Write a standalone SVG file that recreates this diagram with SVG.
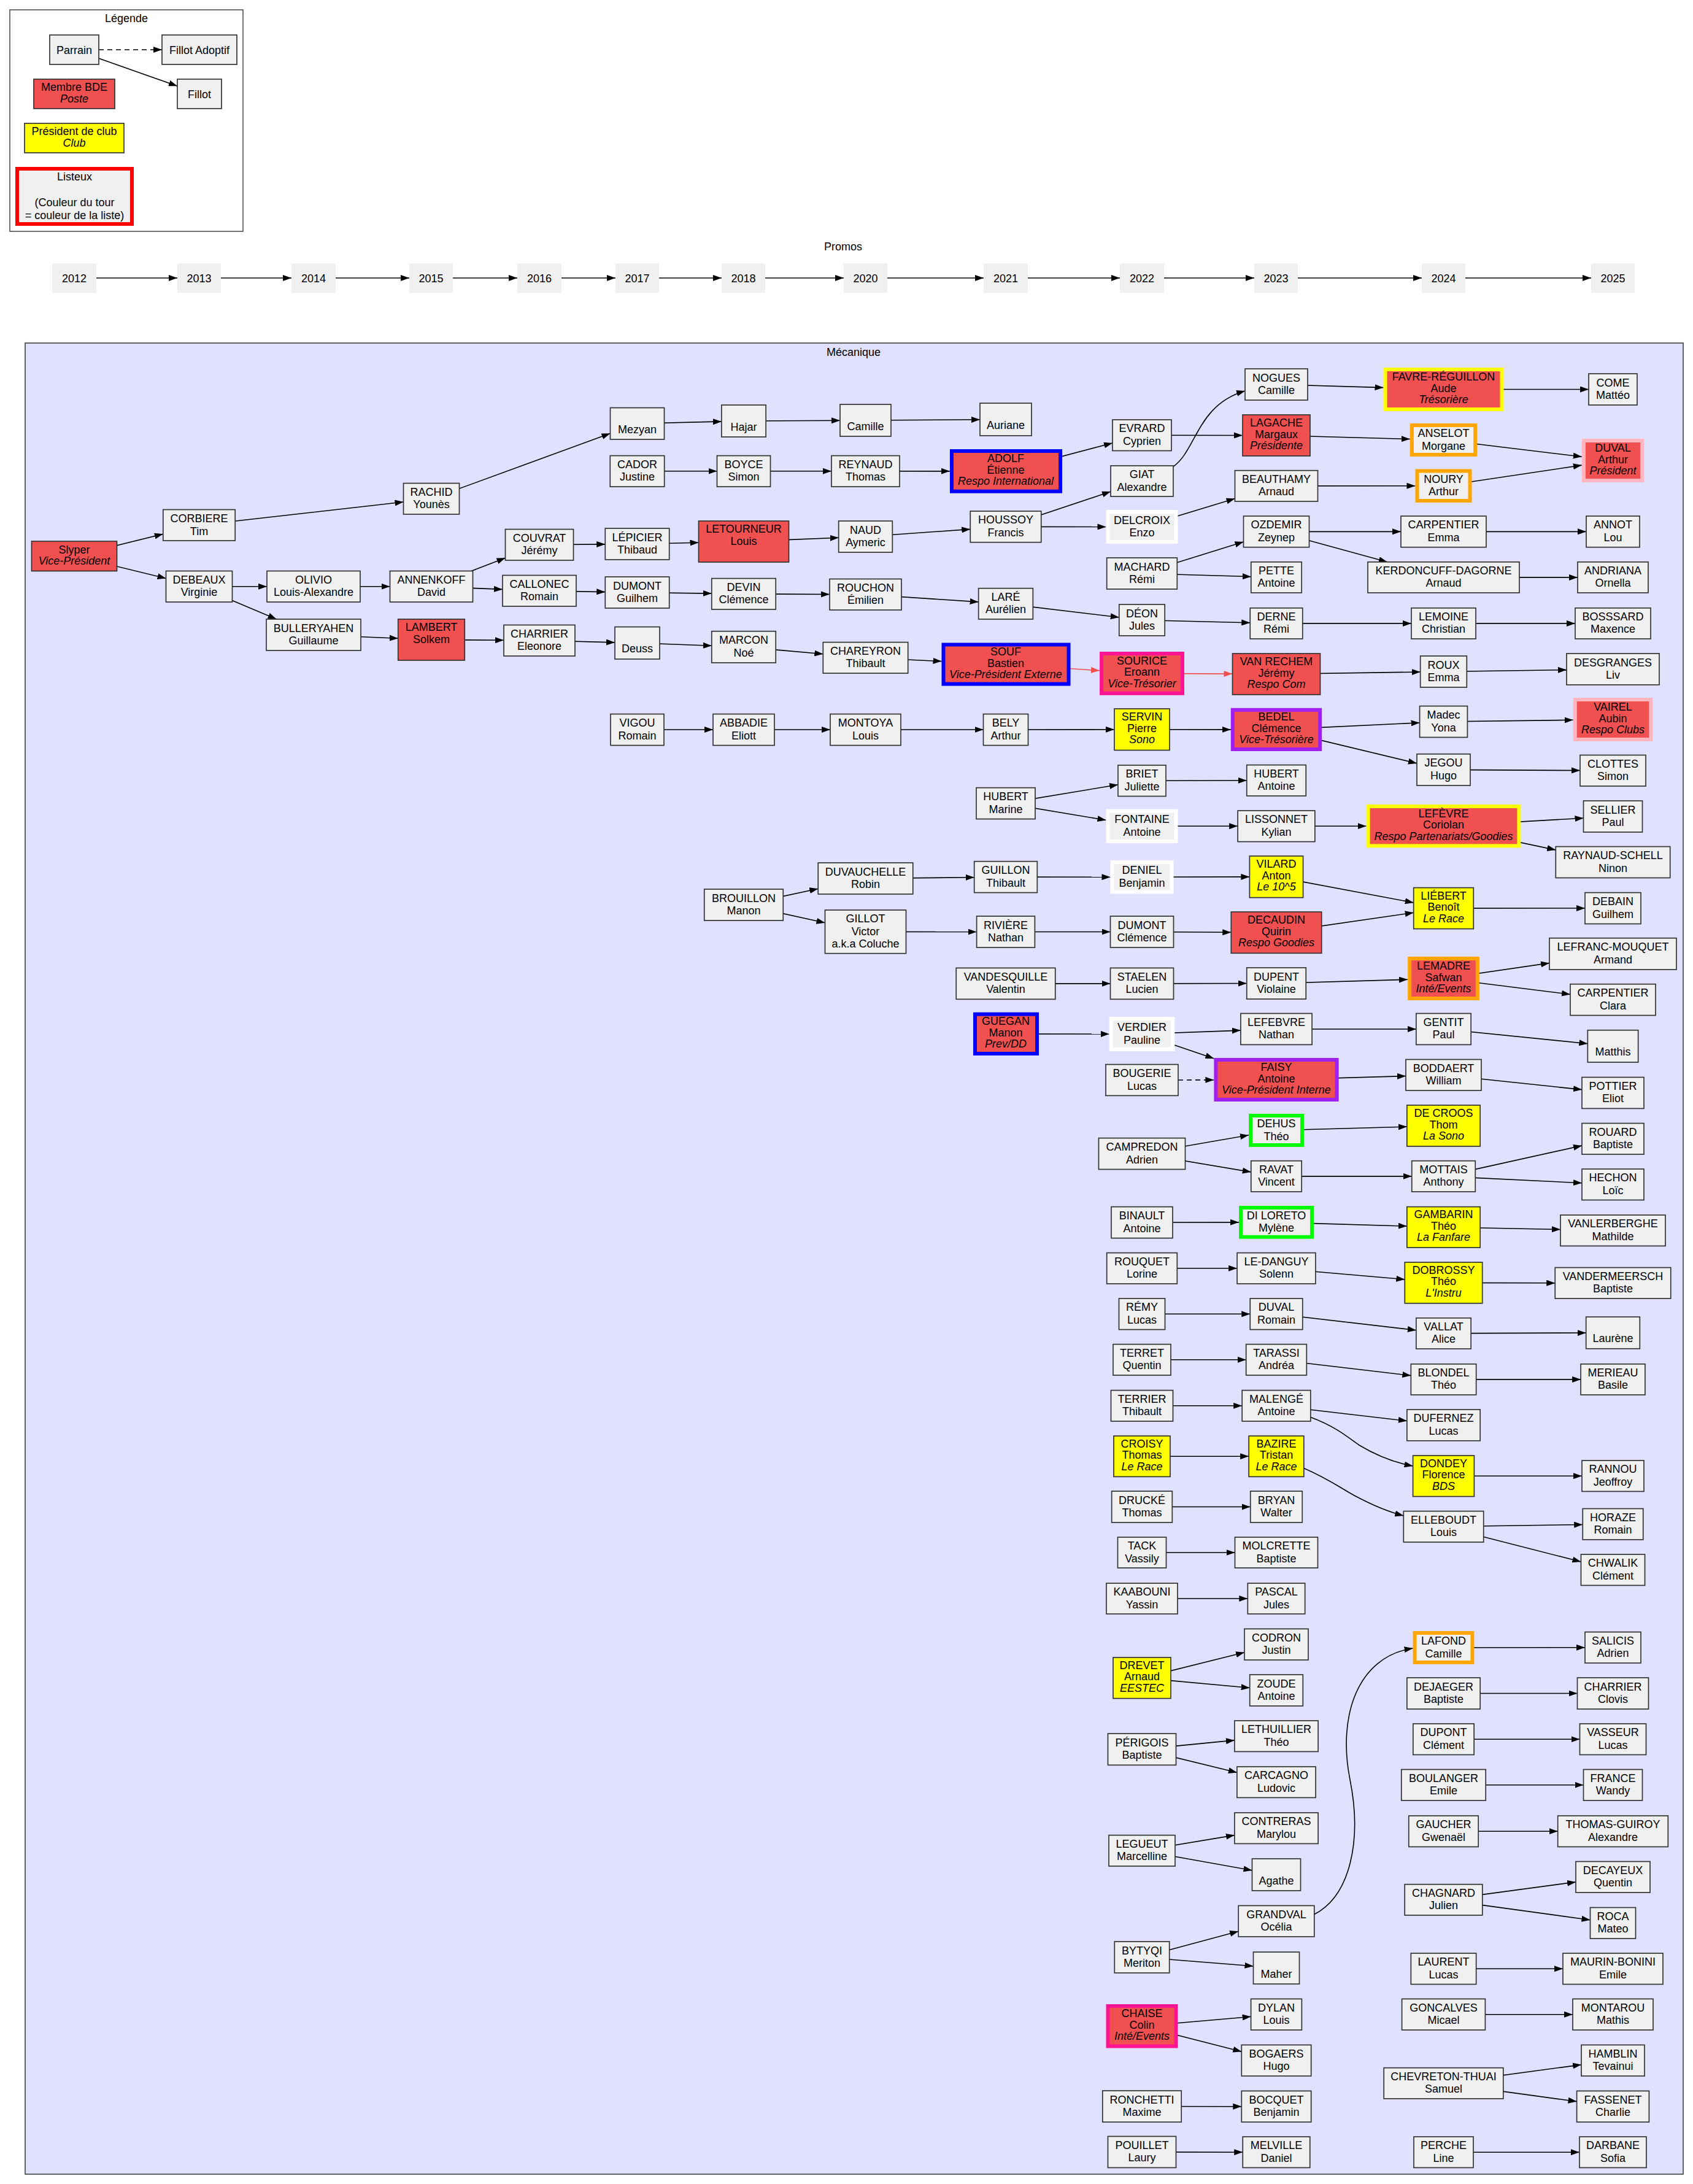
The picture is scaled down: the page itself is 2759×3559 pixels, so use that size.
<svg xmlns="http://www.w3.org/2000/svg" width="2759" height="3559" viewBox="0 0 2759 3559">
<style>
text{font-family:"Liberation Sans",Arial,Helvetica,sans-serif;font-size:18px;text-anchor:middle;fill:#000}
.i{font-style:italic}
.nd rect{stroke:#333;stroke-width:1.7}
.n rect{fill:#f0f0f0}
.b rect{fill:#f05050}
.y rect{fill:#ffff00}
.p rect{fill:#f0f0f0;stroke:none}
.kb rect{stroke:#0000ff;stroke-width:6}
.kp rect{stroke:#ff1493;stroke-width:6}
.kw rect{stroke:#ffffff;stroke-width:6}
.ku rect{stroke:#a020f0;stroke-width:6}
.kg rect{stroke:#00ff00;stroke-width:6}
.ky rect{stroke:#ffff00;stroke-width:6}
.ko rect{stroke:#ffa500;stroke-width:6}
.kl rect{stroke:#ffb6c1;stroke-width:6}
.kr rect{stroke:#ff0000;stroke-width:6}
#edges path{fill:none;stroke:#000;stroke-width:1.6;marker-end:url(#a)}
#edges path.r{stroke:#f05050;marker-end:url(#ar)}
#edges path.d{stroke-dasharray:8,6}
</style>
<defs>
<marker id="a" viewBox="0 0 14 10" refX="14" refY="5" markerWidth="14" markerHeight="10" markerUnits="userSpaceOnUse" orient="auto"><path d="M0,0L14,5L0,10z" fill="#000"/></marker>
<marker id="ar" viewBox="0 0 14 10" refX="14" refY="5" markerWidth="14" markerHeight="10" markerUnits="userSpaceOnUse" orient="auto"><path d="M0,0L14,5L0,10z" fill="#f05050"/></marker>
</defs>
<rect width="2759" height="3559" fill="#fff"/>
<g id="clusters">
<rect x="16" y="16" width="380" height="361" fill="#fff" stroke="#444" stroke-width="1.5"/>
<text x="206" y="36">Légende</text>
<text x="1374" y="408">Promos</text>
<rect x="41" y="559" width="2702" height="2984" fill="#e0e0ff" stroke="#333" stroke-width="1.5"/>
<text x="1391" y="580">Mécanique</text>
</g>
<g id="edges">
<path class="d" d="M161,81L264,81"/>
<path d="M121,81L289,140.3"/>
<path d="M157,453L289,453"/>
<path d="M360,453L475,453"/>
<path d="M547,453L667,453"/>
<path d="M738,453L843,453"/>
<path d="M915,453L1003,453"/>
<path d="M1074,453L1176,453"/>
<path d="M1247,453L1375,453"/>
<path d="M1446,453L1603,453"/>
<path d="M1675,453L1825,453"/>
<path d="M1897,453L2044,453"/>
<path d="M2115,453L2317,453"/>
<path d="M2388,453L2593,453"/>
<path d="M121,906L265.8,870.2"/>
<path d="M121,906L270.5,942.5"/>
<path d="M324.5,855.75L657.5,818"/>
<path d="M703,812.8L994.5,706.3"/>
<path d="M324.5,955.75L435,955.75"/>
<path d="M324.5,955.75L450.6,1009"/>
<path d="M511,955.75L635.5,955.75"/>
<path d="M703,955.75L823.5,909.2"/>
<path d="M703,955.75L819,960.4"/>
<path d="M511,1034.5L648.75,1040.2"/>
<path d="M703,1042.5L821,1043.3"/>
<path d="M879,887.8L986.3,886.9"/>
<path d="M879,962.8L986.3,964.6"/>
<path d="M879,1043.75L1002,1046.9"/>
<path d="M1038.5,690.25L1175.85,686.9"/>
<path d="M1038.5,767.8L1168.5,767.8"/>
<path d="M1038.5,886.5L1138.5,884.2"/>
<path d="M1038.5,965.5L1159.8,967.1"/>
<path d="M1038.5,1047.8L1159.8,1052.3"/>
<path d="M1038.5,1189L1162,1189"/>
<path d="M1212,686L1369,685.2"/>
<path d="M1212,767.8L1355,767.8"/>
<path d="M1212,882.5L1366.7,876.3"/>
<path d="M1212,967.8L1352,968.5"/>
<path d="M1212,1054.3L1341.3,1065.7"/>
<path d="M1212,1189L1353,1189"/>
<path d="M1212,1474.5L1333.25,1448.2"/>
<path d="M1212,1474.5L1344.5,1503.8"/>
<path d="M1410.5,685L1597,683.8"/>
<path d="M1410.5,767.8L1548,767.85"/>
<path d="M1410.5,874.5L1581.25,862.4"/>
<path d="M1410.5,968.75L1594.65,980.9"/>
<path d="M1410.5,1071.8L1534.5,1077.6"/>
<path d="M1410.5,1189L1602.5,1189"/>
<path d="M1410.5,1431.5L1587.7,1429.7"/>
<path d="M1410.5,1518.4L1591.6,1518.5"/>
<path d="M1639,767.85L1813,721.9"/>
<path d="M1639,858.35L1810,801.1"/>
<path d="M1639,858.35L1802.5,858.5"/>
<path d="M1639,983.85L1823.8,1006"/>
<path class="r" d="M1639,1082.55L1792,1092.8"/>
<path d="M1639,1189L1816,1188.8"/>
<path d="M1639,1309.15L1822,1278.7"/>
<path d="M1639,1309.15L1802.5,1336.5"/>
<path d="M1639,1429.15L1809.5,1429.2"/>
<path d="M1639,1518.5L1809.5,1518.5"/>
<path d="M1639,1602.85L1809.5,1602.85"/>
<path d="M1639,1684.85L1807.7,1685"/>
<path d="M1861,709.25L2025,709.5"/>
<path d="M1911,761C1950,735 1950,660 2029,637"/>
<path d="M1861,858.5L2012.5,812.4"/>
<path d="M1861,934.5L2026.5,882.95"/>
<path d="M1861,934.5L2038.8,939.7"/>
<path d="M1861,1010.5L2037.25,1014.8"/>
<path class="r" d="M1861,1097.4L2008.5,1098.1"/>
<path d="M1861,1188.75L2005.8,1188.9"/>
<path d="M1861,1272.25L2031.75,1271.8"/>
<path d="M1861,1346.25L2017.15,1346.3"/>
<path d="M1861,1429.2L2036.4,1428.85"/>
<path d="M1861,1518.5L2006.3,1519.3"/>
<path d="M1861,1602.85L2031.75,1602.5"/>
<path d="M1861,1685L2021.9,1679.1"/>
<path d="M1861,1685L1978.4,1724.9"/>
<path class="d" d="M1920,1760L1978.4,1759.8"/>
<path d="M1861,1880L2035,1849.8"/>
<path d="M1861,1880L2038.8,1909.9"/>
<path d="M1861,1992L2019,1991.85"/>
<path d="M1861,2066.8L2016.1,2066.8"/>
<path d="M1861,2141.3L2037.25,2141.3"/>
<path d="M1861,2215.8L2030.7,2215.8"/>
<path d="M1861,2290.8L2024.2,2290.8"/>
<path d="M1861,2373.2L2035.15,2373.2"/>
<path d="M1861,2455.5L2037.75,2455.5"/>
<path d="M1861,2530L2012.5,2530"/>
<path d="M1861,2605L2033.35,2605"/>
<path d="M1861,2734.35L2028,2692.7"/>
<path d="M1861,2734.35L2036.7,2750.5"/>
<path d="M1861,2850.65L2011.9,2835.9"/>
<path d="M1861,2850.65L2015.9,2888.5"/>
<path d="M1861,3015.8L2011.9,2990.6"/>
<path d="M1861,3015.8L2040.5,3047.9"/>
<path d="M1861,3189.5L2018.2,3147.3"/>
<path d="M1861,3189.5L2042.5,3204"/>
<path d="M1861,3301.75L2038.6,3286.3"/>
<path d="M1861,3301.75L2023.3,3343.2"/>
<path d="M1861,3432.5L2023.3,3432.7"/>
<path d="M1861,3506.9L2025.25,3507.2"/>
<path d="M2080,626.5L2254.5,631.6"/>
<path d="M2080,709.5L2297.8,715.5"/>
<path d="M2080,791.85L2306.5,791.75"/>
<path d="M2080,866.35L2283,866.35"/>
<path d="M2080,866.35L2260.8,915.8"/>
<path d="M2080,1015.9L2300,1015.9"/>
<path d="M2080,1098.5L2314.7,1095"/>
<path d="M2080,1188.9L2313.6,1177.8"/>
<path d="M2080,1188.9L2309,1243.9"/>
<path d="M2080,1346.3L2226.6,1346.2"/>
<path d="M2080,1428.85L2303.7,1470.9"/>
<path d="M2080,1519.65L2303.7,1487.2"/>
<path d="M2080,1602.5L2294,1596.2"/>
<path d="M2080,1677L2307.85,1677"/>
<path d="M2080,1759.5L2291,1753.5"/>
<path d="M2080,1842L2292.85,1836.1"/>
<path d="M2080,1916.85L2300.75,1916.85"/>
<path d="M2080,1991.85L2292.85,1998.1"/>
<path d="M2080,2066.8L2289.3,2084.9"/>
<path d="M2080,2141.3L2307.85,2167.7"/>
<path d="M2080,2215.8L2299.35,2241.6"/>
<path d="M2080,2290.8L2292.85,2315.5"/>
<path d="M2136,2309.5C2180,2326 2200,2345 2215,2355C2240,2370 2270,2383 2302.6,2389"/>
<path d="M2124.7,2392.6C2165,2410 2190,2428 2207,2437C2235,2452 2260,2463 2287.3,2470"/>
<path d="M2141.6,3119.7C2200,3090 2220,3000 2200,2900C2180,2800 2210,2700 2302.6,2686"/>
<path d="M2352.5,634.5L2589,634.5"/>
<path d="M2352.5,717L2577.8,744.3"/>
<path d="M2352.5,791.75L2577.8,758.1"/>
<path d="M2352.5,866.35L2585,866.35"/>
<path d="M2352.5,940.9L2571,940.9"/>
<path d="M2352.5,1015.9L2567,1015.9"/>
<path d="M2352.5,1094.5L2553,1091.6"/>
<path d="M2352.5,1176L2563.6,1173.3"/>
<path d="M2352.5,1254.4L2575,1255.5"/>
<path d="M2352.5,1346.2L2580.5,1333.2"/>
<path d="M2352.5,1346.2L2535.3,1385.1"/>
<path d="M2352.5,1480.1L2583,1480"/>
<path d="M2352.5,1594.5L2525,1569.4"/>
<path d="M2352.5,1594.5L2559,1620.4"/>
<path d="M2352.5,1677L2587.35,1700.7"/>
<path d="M2352.5,1751.75L2578,1775.6"/>
<path d="M2352.5,1916.85L2578,1866.9"/>
<path d="M2352.5,1916.85L2578,1927.8"/>
<path d="M2352.5,1999.8L2543,2003.5"/>
<path d="M2352.5,2090.4L2534.25,2090.8"/>
<path d="M2352.5,2172.9L2584.7,2172"/>
<path d="M2352.5,2247.9L2576.1,2247.9"/>
<path d="M2352.5,2405.3L2578,2405.2"/>
<path d="M2352.5,2487.8L2579.25,2484.5"/>
<path d="M2352.5,2487.8L2576.45,2545"/>
<path d="M2352.5,2685L2583,2684.75"/>
<path d="M2352.5,2759.5L2570.5,2759.5"/>
<path d="M2352.5,2834.25L2574.5,2834.25"/>
<path d="M2352.5,2908.75L2580.5,2908.75"/>
<path d="M2352.5,2984.25L2538.7,2984.25"/>
<path d="M2352.5,3095.85L2568,3066.9"/>
<path d="M2352.5,3095.85L2591.5,3128.7"/>
<path d="M2352.5,3208.25L2547,3208.25"/>
<path d="M2352.5,3282.7L2563,3282.7"/>
<path d="M2352.5,3394.85L2577,3364.6"/>
<path d="M2352.5,3394.85L2569.6,3424.6"/>
<path d="M2352.5,3507.2L2574,3507.2"/>
</g>
<g id="legend-nodes">
<g id="l_parrain" class="nd n"><rect x="81" y="57" width="80" height="48"/><text x="121" y="87.5">Parrain</text></g>
<g id="l_adoptif" class="nd n"><rect x="264" y="57" width="122" height="48"/><text x="325" y="87.5">Fillot Adoptif</text></g>
<g id="l_fillot" class="nd n"><rect x="289" y="129" width="72" height="48"/><text x="325" y="159.5">Fillot</text></g>
<g id="l_bde" class="nd b"><rect x="55" y="129" width="132" height="48"/><text x="121" y="148">Membre BDE</text><text class="i" x="121" y="167">Poste</text></g>
<g id="l_club" class="nd y"><rect x="40" y="201" width="162" height="48"/><text x="121" y="220">Président de club</text><text class="i" x="121" y="239">Club</text></g>
<g id="l_listeux" class="nd n kr"><rect x="28" y="275" width="187" height="90"/><text x="121.5" y="294">Listeux</text><text x="121.5" y="336">(Couleur du tour</text><text x="121.5" y="357">= couleur de la liste)</text></g>
</g>
<g id="promos">
<g id="p2012" class="p"><rect x="85" y="429" width="72" height="48"/><text x="121" y="459.5">2012</text></g>
<g id="p2013" class="p"><rect x="289" y="429" width="71" height="48"/><text x="324.5" y="459.5">2013</text></g>
<g id="p2014" class="p"><rect x="475" y="429" width="72" height="48"/><text x="511" y="459.5">2014</text></g>
<g id="p2015" class="p"><rect x="667" y="429" width="71" height="48"/><text x="702.5" y="459.5">2015</text></g>
<g id="p2016" class="p"><rect x="843" y="429" width="72" height="48"/><text x="879" y="459.5">2016</text></g>
<g id="p2017" class="p"><rect x="1003" y="429" width="71" height="48"/><text x="1038.5" y="459.5">2017</text></g>
<g id="p2018" class="p"><rect x="1176" y="429" width="71" height="48"/><text x="1211.5" y="459.5">2018</text></g>
<g id="p2020" class="p"><rect x="1375" y="429" width="71" height="48"/><text x="1410.5" y="459.5">2020</text></g>
<g id="p2021" class="p"><rect x="1603" y="429" width="72" height="48"/><text x="1639" y="459.5">2021</text></g>
<g id="p2022" class="p"><rect x="1825" y="429" width="72" height="48"/><text x="1861" y="459.5">2022</text></g>
<g id="p2023" class="p"><rect x="2044" y="429" width="71" height="48"/><text x="2079.5" y="459.5">2023</text></g>
<g id="p2024" class="p"><rect x="2317" y="429" width="71" height="48"/><text x="2352.5" y="459.5">2024</text></g>
<g id="p2025" class="p"><rect x="2593" y="429" width="71" height="48"/><text x="2628.5" y="459.5">2025</text></g>
</g>
<g id="nodes">
<g id="slyper" class="nd b"><rect x="51.5" y="882" width="139" height="48.5"/><text x="121" y="902">Slyper</text><text class="i" x="121" y="920">Vice-Président</text></g>
<g id="corbiere" class="nd n"><rect x="265.8" y="830.5" width="117.4" height="50.5"/><text x="324.5" y="851">CORBIERE</text><text x="324.5" y="871.5">Tim</text></g>
<g id="debeaux" class="nd n"><rect x="270.5" y="930.5" width="108" height="50.5"/><text x="324.5" y="950.75">DEBEAUX</text><text x="324.5" y="971.25">Virginie</text></g>
<g id="olivio" class="nd n"><rect x="435" y="930.5" width="152" height="50.5"/><text x="511" y="950.75">OLIVIO</text><text x="511" y="971.25">Louis-Alexandre</text></g>
<g id="bulleryahen" class="nd n"><rect x="434" y="1009" width="154" height="51"/><text x="511" y="1029.5">BULLERYAHEN</text><text x="511" y="1050">Guillaume</text></g>
<g id="rachid" class="nd n"><rect x="657.5" y="787.5" width="91" height="50.5"/><text x="703" y="807.75">RACHID</text><text x="703" y="828.25">Younès</text></g>
<g id="annenkoff" class="nd n"><rect x="635.5" y="930.5" width="135" height="50.5"/><text x="703" y="950.75">ANNENKOFF</text><text x="703" y="971.25">David</text></g>
<g id="lambert" class="nd b"><rect x="648.75" y="1009" width="108.5" height="67"/><text x="703" y="1027.5">LAMBERT</text><text x="703" y="1047.5">Solkem</text></g>
<g id="couvrat" class="nd n"><rect x="823.5" y="862.5" width="111" height="50.5"/><text x="879" y="882.75">COUVRAT</text><text x="879" y="903.25">Jérémy</text></g>
<g id="callonec" class="nd n"><rect x="819" y="937.5" width="120" height="50.5"/><text x="879" y="957.75">CALLONEC</text><text x="879" y="978.25">Romain</text></g>
<g id="charrier_e" class="nd n"><rect x="821" y="1018.5" width="116" height="50.5"/><text x="879" y="1038.75">CHARRIER</text><text x="879" y="1059.25">Eleonore</text></g>
<g id="mezyan" class="nd n"><rect x="994.5" y="664.5" width="88" height="51.5"/><text x="1038.5" y="705.75">Mezyan</text></g>
<g id="cador" class="nd n"><rect x="994.3" y="742.6" width="88.4" height="50.5"/><text x="1038.5" y="762.85">CADOR</text><text x="1038.5" y="783.35">Justine</text></g>
<g id="lepicier" class="nd n"><rect x="986.3" y="861" width="104.4" height="51"/><text x="1038.5" y="881.5">LÉPICIER</text><text x="1038.5" y="902">Thibaud</text></g>
<g id="dumont_g" class="nd n"><rect x="986.3" y="940" width="104.4" height="51"/><text x="1038.5" y="960.5">DUMONT</text><text x="1038.5" y="981">Guilhem</text></g>
<g id="deuss" class="nd n"><rect x="1002" y="1021.6" width="73" height="52.4"/><text x="1038.5" y="1063.3">Deuss</text></g>
<g id="vigou" class="nd n"><rect x="995" y="1163.6" width="87" height="51"/><text x="1038.5" y="1184.1">VIGOU</text><text x="1038.5" y="1204.6">Romain</text></g>
<g id="hajar" class="nd n"><rect x="1175.85" y="660" width="72.3" height="52"/><text x="1212" y="701.5">Hajar</text></g>
<g id="boyce" class="nd n"><rect x="1168.5" y="742.6" width="87" height="50.5"/><text x="1212" y="762.85">BOYCE</text><text x="1212" y="783.35">Simon</text></g>
<g id="letourneur" class="nd b"><rect x="1138.5" y="849" width="147" height="67"/><text x="1212" y="867.5">LETOURNEUR</text><text x="1212" y="887.5">Louis</text></g>
<g id="devin" class="nd n"><rect x="1159.8" y="942.6" width="104.4" height="50.5"/><text x="1212" y="962.85">DEVIN</text><text x="1212" y="983.35">Clémence</text></g>
<g id="marcon" class="nd n"><rect x="1159.8" y="1028.7" width="104.4" height="51.3"/><text x="1212" y="1049.35">MARCON</text><text x="1212" y="1069.85">Noé</text></g>
<g id="abbadie" class="nd n"><rect x="1162" y="1163.6" width="100" height="51"/><text x="1212" y="1184.1">ABBADIE</text><text x="1212" y="1204.6">Eliott</text></g>
<g id="brouillon" class="nd n"><rect x="1147.75" y="1449" width="128.5" height="51"/><text x="1212" y="1469.5">BROUILLON</text><text x="1212" y="1490">Manon</text></g>
<g id="camille" class="nd n"><rect x="1369" y="659" width="83" height="52"/><text x="1410.5" y="700.5">Camille</text></g>
<g id="reynaud" class="nd n"><rect x="1355" y="742.6" width="111" height="50.5"/><text x="1410.5" y="762.85">REYNAUD</text><text x="1410.5" y="783.35">Thomas</text></g>
<g id="naud" class="nd n"><rect x="1366.7" y="849" width="87.6" height="51"/><text x="1410.5" y="869.5">NAUD</text><text x="1410.5" y="890">Aymeric</text></g>
<g id="rouchon" class="nd n"><rect x="1352" y="943.5" width="117" height="50.5"/><text x="1410.5" y="963.75">ROUCHON</text><text x="1410.5" y="984.25">Émilien</text></g>
<g id="chareyron" class="nd n"><rect x="1341.3" y="1046.6" width="138.4" height="50.5"/><text x="1410.5" y="1066.85">CHAREYRON</text><text x="1410.5" y="1087.35">Thibault</text></g>
<g id="montoya" class="nd n"><rect x="1353" y="1163.6" width="115" height="51"/><text x="1410.5" y="1184.1">MONTOYA</text><text x="1410.5" y="1204.6">Louis</text></g>
<g id="duvauchelle" class="nd n"><rect x="1333.25" y="1406" width="154.5" height="51"/><text x="1410.5" y="1426.5">DUVAUCHELLE</text><text x="1410.5" y="1447">Robin</text></g>
<g id="gillot" class="nd n"><rect x="1344.5" y="1483" width="132" height="70.7"/><text x="1410.5" y="1503.35">GILLOT</text><text x="1410.5" y="1523.85">Victor</text><text x="1410.5" y="1544.35">a.k.a Coluche</text></g>
<g id="auriane" class="nd n"><rect x="1597" y="657" width="84" height="53"/><text x="1639" y="699">Auriane</text></g>
<g id="adolf" class="nd b kb"><rect x="1551" y="735" width="177" height="65.7"/><text x="1639" y="753.35">ADOLF</text><text x="1639" y="771.85">Étienne</text><text class="i" x="1639" y="790.35">Respo International</text></g>
<g id="houssoy" class="nd n"><rect x="1581.25" y="833" width="115.5" height="50.7"/><text x="1639" y="853.35">HOUSSOY</text><text x="1639" y="873.85">Francis</text></g>
<g id="lare" class="nd n"><rect x="1594.65" y="958.7" width="88.7" height="50.3"/><text x="1639" y="978.85">LARÉ</text><text x="1639" y="999.35">Aurélien</text></g>
<g id="souf" class="nd b kb"><rect x="1537.5" y="1050.5" width="204" height="64.1"/><text x="1639" y="1068.05">SOUF</text><text x="1639" y="1086.55">Bastien</text><text class="i" x="1639" y="1105.05">Vice-Président Externe</text></g>
<g id="bely" class="nd n"><rect x="1602.5" y="1163.6" width="73" height="51"/><text x="1639" y="1184.1">BELY</text><text x="1639" y="1204.6">Arthur</text></g>
<g id="hubert_m" class="nd n"><rect x="1591" y="1283.7" width="96" height="50.9"/><text x="1639" y="1304.15">HUBERT</text><text x="1639" y="1324.65">Marine</text></g>
<g id="guillon" class="nd n"><rect x="1587.7" y="1403.7" width="102.6" height="50.9"/><text x="1639" y="1424.15">GUILLON</text><text x="1639" y="1444.65">Thibault</text></g>
<g id="riviere" class="nd n"><rect x="1591.6" y="1493" width="94.8" height="51"/><text x="1639" y="1513.5">RIVIÈRE</text><text x="1639" y="1534">Nathan</text></g>
<g id="vandesquille" class="nd n"><rect x="1558.25" y="1577.4" width="161.5" height="50.9"/><text x="1639" y="1597.85">VANDESQUILLE</text><text x="1639" y="1618.35">Valentin</text></g>
<g id="guegan" class="nd b kb"><rect x="1589" y="1652.7" width="101" height="64.3"/><text x="1639" y="1670.35">GUEGAN</text><text x="1639" y="1688.85">Manon</text><text class="i" x="1639" y="1707.35">Prev/DD</text></g>
<g id="evrard" class="nd n"><rect x="1813" y="684" width="96" height="50.5"/><text x="1861" y="704.25">EVRARD</text><text x="1861" y="724.75">Cyprien</text></g>
<g id="giat" class="nd n"><rect x="1810" y="759" width="102" height="50"/><text x="1861" y="779">GIAT</text><text x="1861" y="799.5">Alexandre</text></g>
<g id="delcroix" class="nd n kw"><rect x="1805.5" y="834" width="111" height="49"/><text x="1861" y="853.5">DELCROIX</text><text x="1861" y="874">Enzo</text></g>
<g id="machard" class="nd n"><rect x="1803.7" y="909" width="114.6" height="51"/><text x="1861" y="929.5">MACHARD</text><text x="1861" y="950">Rémi</text></g>
<g id="deon" class="nd n"><rect x="1823.8" y="985" width="74.4" height="51"/><text x="1861" y="1005.5">DÉON</text><text x="1861" y="1026">Jules</text></g>
<g id="sourice" class="nd b kp"><rect x="1795" y="1065" width="132" height="64.8"/><text x="1861" y="1082.9">SOURICE</text><text x="1861" y="1101.4">Eroann</text><text class="i" x="1861" y="1119.9">Vice-Trésorier</text></g>
<g id="servin" class="nd y"><rect x="1816" y="1155" width="90" height="67.5"/><text x="1861" y="1174.25">SERVIN</text><text x="1861" y="1192.75">Pierre</text><text class="i" x="1861" y="1211.25">Sono</text></g>
<g id="briet" class="nd n"><rect x="1822" y="1247" width="78" height="50.5"/><text x="1861" y="1267.25">BRIET</text><text x="1861" y="1287.75">Juliette</text></g>
<g id="fontaine" class="nd n kw"><rect x="1805.5" y="1321.5" width="111" height="49.5"/><text x="1861" y="1341.25">FONTAINE</text><text x="1861" y="1361.75">Antoine</text></g>
<g id="deniel" class="nd n kw"><rect x="1812.4" y="1405" width="97.2" height="48.4"/><text x="1861" y="1424.2">DENIEL</text><text x="1861" y="1444.7">Benjamin</text></g>
<g id="dumont_c" class="nd n"><rect x="1809.5" y="1493" width="103" height="51"/><text x="1861" y="1513.5">DUMONT</text><text x="1861" y="1534">Clémence</text></g>
<g id="staelen" class="nd n"><rect x="1809.5" y="1577.4" width="103" height="50.9"/><text x="1861" y="1597.85">STAELEN</text><text x="1861" y="1618.35">Lucien</text></g>
<g id="verdier" class="nd n kw"><rect x="1810.7" y="1660" width="100.6" height="50"/><text x="1861" y="1680">VERDIER</text><text x="1861" y="1700.5">Pauline</text></g>
<g id="bougerie" class="nd n"><rect x="1802" y="1734.6" width="118" height="50.8"/><text x="1861" y="1755">BOUGERIE</text><text x="1861" y="1775.5">Lucas</text></g>
<g id="campredon" class="nd n"><rect x="1790.5" y="1854.6" width="141" height="50.9"/><text x="1861" y="1875">CAMPREDON</text><text x="1861" y="1895.5">Adrien</text></g>
<g id="binault" class="nd n"><rect x="1811" y="1966.6" width="100" height="51"/><text x="1861" y="1987.1">BINAULT</text><text x="1861" y="2007.6">Antoine</text></g>
<g id="rouquet" class="nd n"><rect x="1803.7" y="2041.6" width="114.6" height="50.4"/><text x="1861" y="2061.8">ROUQUET</text><text x="1861" y="2082.3">Lorine</text></g>
<g id="remy" class="nd n"><rect x="1823.5" y="2116" width="75" height="50.6"/><text x="1861" y="2136.3">RÉMY</text><text x="1861" y="2156.8">Lucas</text></g>
<g id="terret" class="nd n"><rect x="1814" y="2190.6" width="94" height="50.4"/><text x="1861" y="2210.8">TERRET</text><text x="1861" y="2231.3">Quentin</text></g>
<g id="terrier" class="nd n"><rect x="1810.5" y="2265.6" width="101" height="50.4"/><text x="1861" y="2285.8">TERRIER</text><text x="1861" y="2306.3">Thibault</text></g>
<g id="croisy" class="nd y"><rect x="1815" y="2340" width="92" height="66.4"/><text x="1861" y="2358.7">CROISY</text><text x="1861" y="2377.2">Thomas</text><text class="i" x="1861" y="2395.7">Le Race</text></g>
<g id="drucke" class="nd n"><rect x="1811.7" y="2430" width="98.6" height="51"/><text x="1861" y="2450.5">DRUCKÉ</text><text x="1861" y="2471">Thomas</text></g>
<g id="tack" class="nd n"><rect x="1821.5" y="2505" width="79" height="50"/><text x="1861" y="2525">TACK</text><text x="1861" y="2545.5">Vassily</text></g>
<g id="kaabouni" class="nd n"><rect x="1803" y="2580" width="116" height="50"/><text x="1861" y="2600">KAABOUNI</text><text x="1861" y="2620.5">Yassin</text></g>
<g id="drevet" class="nd y"><rect x="1814" y="2701" width="94" height="66.7"/><text x="1861" y="2719.85">DREVET</text><text x="1861" y="2738.35">Arnaud</text><text class="i" x="1861" y="2756.85">EESTEC</text></g>
<g id="perigois" class="nd n"><rect x="1805.5" y="2825" width="111" height="51.3"/><text x="1861" y="2845.65">PÉRIGOIS</text><text x="1861" y="2866.15">Baptiste</text></g>
<g id="legueut" class="nd n"><rect x="1807" y="2990.6" width="108" height="50.4"/><text x="1861" y="3010.8">LEGUEUT</text><text x="1861" y="3031.3">Marcelline</text></g>
<g id="bytyqi" class="nd n"><rect x="1816.3" y="3164" width="89.4" height="51"/><text x="1861" y="3184.5">BYTYQI</text><text x="1861" y="3205">Meriton</text></g>
<g id="chaise" class="nd b kp"><rect x="1805.5" y="3269" width="111" height="65.5"/><text x="1861" y="3287.25">CHAISE</text><text x="1861" y="3305.75">Colin</text><text class="i" x="1861" y="3324.25">Inté/Events</text></g>
<g id="ronchetti" class="nd n"><rect x="1796.8" y="3407" width="128.4" height="51"/><text x="1861" y="3427.5">RONCHETTI</text><text x="1861" y="3448">Maxime</text></g>
<g id="pouillet" class="nd n"><rect x="1805.5" y="3481.4" width="111" height="51"/><text x="1861" y="3501.9">POUILLET</text><text x="1861" y="3522.4">Laury</text></g>
<g id="nogues" class="nd n"><rect x="2029" y="601" width="102" height="51"/><text x="2080" y="621.5">NOGUES</text><text x="2080" y="642">Camille</text></g>
<g id="lagache" class="nd b"><rect x="2025" y="676" width="110" height="67"/><text x="2080" y="695">LAGACHE</text><text x="2080" y="713.5">Margaux</text><text class="i" x="2080" y="732">Présidente</text></g>
<g id="beauthamy" class="nd n"><rect x="2012.5" y="766.7" width="135" height="50.3"/><text x="2080" y="786.85">BEAUTHAMY</text><text x="2080" y="807.35">Arnaud</text></g>
<g id="ozdemir" class="nd n"><rect x="2026.5" y="841" width="107" height="50.7"/><text x="2080" y="861.35">OZDEMIR</text><text x="2080" y="881.85">Zeynep</text></g>
<g id="pette" class="nd n"><rect x="2038.8" y="915.8" width="82.4" height="50.2"/><text x="2080" y="935.9">PETTE</text><text x="2080" y="956.4">Antoine</text></g>
<g id="derne" class="nd n"><rect x="2037.25" y="990.8" width="85.5" height="50.2"/><text x="2080" y="1010.9">DERNE</text><text x="2080" y="1031.4">Rémi</text></g>
<g id="vanrechem" class="nd b"><rect x="2008.5" y="1065" width="143" height="67"/><text x="2080" y="1084">VAN RECHEM</text><text x="2080" y="1102.5">Jérémy</text><text class="i" x="2080" y="1121">Respo Com</text></g>
<g id="bedel" class="nd b ku"><rect x="2008.8" y="1156.8" width="142.4" height="64.2"/><text x="2080" y="1174.4">BEDEL</text><text x="2080" y="1192.9">Clémence</text><text class="i" x="2080" y="1211.4">Vice-Trésorière</text></g>
<g id="hubert_a" class="nd n"><rect x="2031.75" y="1246.6" width="96.5" height="50.4"/><text x="2080" y="1266.8">HUBERT</text><text x="2080" y="1287.3">Antoine</text></g>
<g id="lissonnet" class="nd n"><rect x="2017.15" y="1321" width="125.7" height="50.6"/><text x="2080" y="1341.3">LISSONNET</text><text x="2080" y="1361.8">Kylian</text></g>
<g id="vilard" class="nd y"><rect x="2036.4" y="1395" width="87.2" height="67.7"/><text x="2080" y="1414.35">VILARD</text><text x="2080" y="1432.85">Anton</text><text class="i" x="2080" y="1451.35">Le 10^5</text></g>
<g id="decaudin" class="nd b"><rect x="2006.3" y="1486" width="147.4" height="67.3"/><text x="2080" y="1505.15">DECAUDIN</text><text x="2080" y="1523.65">Quirin</text><text class="i" x="2080" y="1542.15">Respo Goodies</text></g>
<g id="dupent" class="nd n"><rect x="2031.75" y="1577" width="96.5" height="51"/><text x="2080" y="1597.5">DUPENT</text><text x="2080" y="1618">Violaine</text></g>
<g id="lefebvre" class="nd n"><rect x="2021.9" y="1651.5" width="116.2" height="50.9"/><text x="2080" y="1671.95">LEFEBVRE</text><text x="2080" y="1692.45">Nathan</text></g>
<g id="faisy" class="nd b ku"><rect x="1981.4" y="1727" width="197.2" height="65"/><text x="2080" y="1745">FAISY</text><text x="2080" y="1763.5">Antoine</text><text class="i" x="2080" y="1782">Vice-Président Interne</text></g>
<g id="dehus" class="nd n kg"><rect x="2038" y="1818" width="84" height="48"/><text x="2080" y="1837">DEHUS</text><text x="2080" y="1857.5">Théo</text></g>
<g id="ravat" class="nd n"><rect x="2038.8" y="1891.7" width="82.4" height="50.3"/><text x="2080" y="1911.85">RAVAT</text><text x="2080" y="1932.35">Vincent</text></g>
<g id="diloreto" class="nd n kg"><rect x="2022" y="1968" width="116" height="47.7"/><text x="2080" y="1986.85">DI LORETO</text><text x="2080" y="2007.35">Mylène</text></g>
<g id="ledanguy" class="nd n"><rect x="2016.1" y="2041.6" width="127.8" height="50.4"/><text x="2080" y="2061.8">LE-DANGUY</text><text x="2080" y="2082.3">Solenn</text></g>
<g id="duval_r" class="nd n"><rect x="2037.25" y="2116" width="85.5" height="50.6"/><text x="2080" y="2136.3">DUVAL</text><text x="2080" y="2156.8">Romain</text></g>
<g id="tarassi" class="nd n"><rect x="2030.7" y="2190.6" width="98.6" height="50.4"/><text x="2080" y="2210.8">TARASSI</text><text x="2080" y="2231.3">Andréa</text></g>
<g id="malenge" class="nd n"><rect x="2024.2" y="2265.6" width="111.6" height="50.4"/><text x="2080" y="2285.8">MALENGÉ</text><text x="2080" y="2306.3">Antoine</text></g>
<g id="bazire" class="nd y"><rect x="2035.15" y="2340" width="89.7" height="66.4"/><text x="2080" y="2358.7">BAZIRE</text><text x="2080" y="2377.2">Tristan</text><text class="i" x="2080" y="2395.7">Le Race</text></g>
<g id="bryan" class="nd n"><rect x="2037.75" y="2430" width="84.5" height="51"/><text x="2080" y="2450.5">BRYAN</text><text x="2080" y="2471">Walter</text></g>
<g id="molcrette" class="nd n"><rect x="2012.5" y="2505" width="135" height="50"/><text x="2080" y="2525">MOLCRETTE</text><text x="2080" y="2545.5">Baptiste</text></g>
<g id="pascal" class="nd n"><rect x="2033.35" y="2580" width="93.3" height="50"/><text x="2080" y="2600">PASCAL</text><text x="2080" y="2620.5">Jules</text></g>
<g id="codron" class="nd n"><rect x="2028" y="2654.4" width="104" height="50.6"/><text x="2080" y="2674.7">CODRON</text><text x="2080" y="2695.2">Justin</text></g>
<g id="zoude" class="nd n"><rect x="2036.7" y="2729" width="86.6" height="51"/><text x="2080" y="2749.5">ZOUDE</text><text x="2080" y="2770">Antoine</text></g>
<g id="lethuillier" class="nd n"><rect x="2011.9" y="2804" width="136.2" height="50.4"/><text x="2080" y="2824.2">LETHUILLIER</text><text x="2080" y="2844.7">Théo</text></g>
<g id="carcagno" class="nd n"><rect x="2015.9" y="2879" width="128.2" height="50.4"/><text x="2080" y="2899.2">CARCAGNO</text><text x="2080" y="2919.7">Ludovic</text></g>
<g id="contreras" class="nd n"><rect x="2011.9" y="2954" width="136.2" height="50.4"/><text x="2080" y="2974.2">CONTRERAS</text><text x="2080" y="2994.7">Marylou</text></g>
<g id="agathe" class="nd n"><rect x="2040.5" y="3029" width="79" height="52"/><text x="2080" y="3070.5">Agathe</text></g>
<g id="grandval" class="nd n"><rect x="2018.2" y="3105.4" width="123.6" height="50.6"/><text x="2080" y="3125.7">GRANDVAL</text><text x="2080" y="3146.2">Océlia</text></g>
<g id="maher" class="nd n"><rect x="2042.5" y="3181" width="75" height="52"/><text x="2080" y="3222.5">Maher</text></g>
<g id="dylan" class="nd n"><rect x="2038.6" y="3257.4" width="82.8" height="50.6"/><text x="2080" y="3277.7">DYLAN</text><text x="2080" y="3298.2">Louis</text></g>
<g id="bogaers" class="nd n"><rect x="2023.3" y="3332.4" width="113.4" height="50.6"/><text x="2080" y="3352.7">BOGAERS</text><text x="2080" y="3373.2">Hugo</text></g>
<g id="bocquet" class="nd n"><rect x="2023.3" y="3407.4" width="113.4" height="50.6"/><text x="2080" y="3427.7">BOCQUET</text><text x="2080" y="3448.2">Benjamin</text></g>
<g id="melville" class="nd n"><rect x="2025.25" y="3482" width="109.5" height="50.4"/><text x="2080" y="3502.2">MELVILLE</text><text x="2080" y="3522.7">Daniel</text></g>
<g id="favre" class="nd b ky"><rect x="2257.5" y="602" width="190" height="65"/><text x="2352.5" y="620">FAVRE-RÉGUILLON</text><text x="2352.5" y="638.5">Aude</text><text class="i" x="2352.5" y="657">Trésorière</text></g>
<g id="anselot" class="nd n ko"><rect x="2300.8" y="693" width="103.4" height="48"/><text x="2352.5" y="712">ANSELOT</text><text x="2352.5" y="732.5">Morgane</text></g>
<g id="noury" class="nd n ko"><rect x="2309.5" y="767.5" width="86" height="48.5"/><text x="2352.5" y="786.75">NOURY</text><text x="2352.5" y="807.25">Arthur</text></g>
<g id="carpentier_e" class="nd n"><rect x="2283" y="841" width="139" height="50.7"/><text x="2352.5" y="861.35">CARPENTIER</text><text x="2352.5" y="881.85">Emma</text></g>
<g id="kerdoncuff" class="nd n"><rect x="2229" y="915.8" width="247" height="50.2"/><text x="2352.5" y="935.9">KERDONCUFF-DAGORNE</text><text x="2352.5" y="956.4">Arnaud</text></g>
<g id="lemoine" class="nd n"><rect x="2300" y="990.8" width="105" height="50.2"/><text x="2352.5" y="1010.9">LEMOINE</text><text x="2352.5" y="1031.4">Christian</text></g>
<g id="roux" class="nd n"><rect x="2314.7" y="1069" width="75.6" height="51"/><text x="2352.5" y="1089.5">ROUX</text><text x="2352.5" y="1110">Emma</text></g>
<g id="madec" class="nd n"><rect x="2313.6" y="1150.6" width="77.8" height="50.9"/><text x="2352.5" y="1171.05">Madec</text><text x="2352.5" y="1191.55">Yona</text></g>
<g id="jegou" class="nd n"><rect x="2309" y="1228.75" width="87" height="51.25"/><text x="2352.5" y="1249.4">JEGOU</text><text x="2352.5" y="1269.9">Hugo</text></g>
<g id="lefevre" class="nd b ky"><rect x="2229.6" y="1314" width="245.8" height="64.4"/><text x="2352.5" y="1331.7">LEFÈVRE</text><text x="2352.5" y="1350.2">Coriolan</text><text class="i" x="2352.5" y="1368.7">Respo Partenariats/Goodies</text></g>
<g id="liebert" class="nd y"><rect x="2303.7" y="1446.6" width="97.6" height="67"/><text x="2352.5" y="1465.6">LIÉBERT</text><text x="2352.5" y="1484.1">Benoît</text><text class="i" x="2352.5" y="1502.6">Le Race</text></g>
<g id="lemadre" class="nd b ko"><rect x="2297.2" y="1562" width="110.6" height="65"/><text x="2352.5" y="1580">LEMADRE</text><text x="2352.5" y="1598.5">Safwan</text><text class="i" x="2352.5" y="1617">Inté/Events</text></g>
<g id="gentit" class="nd n"><rect x="2307.85" y="1651.5" width="89.3" height="50.9"/><text x="2352.5" y="1671.95">GENTIT</text><text x="2352.5" y="1692.45">Paul</text></g>
<g id="boddaert" class="nd n"><rect x="2291" y="1726.5" width="123" height="50.5"/><text x="2352.5" y="1746.75">BODDAERT</text><text x="2352.5" y="1767.25">William</text></g>
<g id="decroos" class="nd y"><rect x="2292.85" y="1801" width="119.3" height="67"/><text x="2352.5" y="1820">DE CROOS</text><text x="2352.5" y="1838.5">Thom</text><text class="i" x="2352.5" y="1857">La Sono</text></g>
<g id="mottais" class="nd n"><rect x="2300.75" y="1891.7" width="103.5" height="50.3"/><text x="2352.5" y="1911.85">MOTTAIS</text><text x="2352.5" y="1932.35">Anthony</text></g>
<g id="gambarin" class="nd y"><rect x="2292.85" y="1966.6" width="119.3" height="66.4"/><text x="2352.5" y="1985.3">GAMBARIN</text><text x="2352.5" y="2003.8">Théo</text><text class="i" x="2352.5" y="2022.3">La Fanfare</text></g>
<g id="dobrossy" class="nd y"><rect x="2289.3" y="2057" width="126.4" height="66.8"/><text x="2352.5" y="2075.9">DOBROSSY</text><text x="2352.5" y="2094.4">Théo</text><text class="i" x="2352.5" y="2112.9">L'Instru</text></g>
<g id="vallat" class="nd n"><rect x="2307.85" y="2147.8" width="89.3" height="50.2"/><text x="2352.5" y="2167.9">VALLAT</text><text x="2352.5" y="2188.4">Alice</text></g>
<g id="blondel" class="nd n"><rect x="2299.35" y="2222.8" width="106.3" height="50.2"/><text x="2352.5" y="2242.9">BLONDEL</text><text x="2352.5" y="2263.4">Théo</text></g>
<g id="dufernez" class="nd n"><rect x="2292.85" y="2297" width="119.3" height="50.8"/><text x="2352.5" y="2317.4">DUFERNEZ</text><text x="2352.5" y="2337.9">Lucas</text></g>
<g id="dondey" class="nd y"><rect x="2302.6" y="2372" width="99.8" height="66.6"/><text x="2352.5" y="2390.8">DONDEY</text><text x="2352.5" y="2409.3">Florence</text><text class="i" x="2352.5" y="2427.8">BDS</text></g>
<g id="elleboudt" class="nd n"><rect x="2287.3" y="2462.6" width="130.4" height="50.4"/><text x="2352.5" y="2482.8">ELLEBOUDT</text><text x="2352.5" y="2503.3">Louis</text></g>
<g id="lafond" class="nd n ko"><rect x="2305.6" y="2661" width="93.8" height="48"/><text x="2352.5" y="2680">LAFOND</text><text x="2352.5" y="2700.5">Camille</text></g>
<g id="dejaeger" class="nd n"><rect x="2292.85" y="2734" width="119.3" height="51"/><text x="2352.5" y="2754.5">DEJAEGER</text><text x="2352.5" y="2775">Baptiste</text></g>
<g id="dupont_c" class="nd n"><rect x="2302.85" y="2809" width="99.3" height="50.5"/><text x="2352.5" y="2829.25">DUPONT</text><text x="2352.5" y="2849.75">Clément</text></g>
<g id="boulanger" class="nd n"><rect x="2283.8" y="2883.5" width="137.4" height="50.5"/><text x="2352.5" y="2903.75">BOULANGER</text><text x="2352.5" y="2924.25">Emile</text></g>
<g id="gaucher" class="nd n"><rect x="2295.8" y="2959" width="113.4" height="50.5"/><text x="2352.5" y="2979.25">GAUCHER</text><text x="2352.5" y="2999.75">Gwenaël</text></g>
<g id="chagnard" class="nd n"><rect x="2289.2" y="3070.7" width="126.6" height="50.3"/><text x="2352.5" y="3090.85">CHAGNARD</text><text x="2352.5" y="3111.35">Julien</text></g>
<g id="laurent" class="nd n"><rect x="2299.35" y="3183" width="106.3" height="50.5"/><text x="2352.5" y="3203.25">LAURENT</text><text x="2352.5" y="3223.75">Lucas</text></g>
<g id="goncalves" class="nd n"><rect x="2284.6" y="3257.4" width="135.8" height="50.6"/><text x="2352.5" y="3277.7">GONCALVES</text><text x="2352.5" y="3298.2">Micael</text></g>
<g id="chevreton" class="nd n"><rect x="2255.2" y="3369.7" width="194.6" height="50.3"/><text x="2352.5" y="3389.85">CHEVRETON-THUAI</text><text x="2352.5" y="3410.35">Samuel</text></g>
<g id="perche" class="nd n"><rect x="2304" y="3482" width="97" height="50.4"/><text x="2352.5" y="3502.2">PERCHE</text><text x="2352.5" y="3522.7">Line</text></g>
<g id="come" class="nd n"><rect x="2589" y="609" width="79" height="51"/><text x="2628.5" y="629.5">COME</text><text x="2628.5" y="650">Mattéo</text></g>
<g id="duval_a" class="nd b kl"><rect x="2580.9" y="718" width="95.2" height="65"/><text x="2628.5" y="736">DUVAL</text><text x="2628.5" y="754.5">Arthur</text><text class="i" x="2628.5" y="773">Président</text></g>
<g id="annot" class="nd n"><rect x="2585" y="841" width="87" height="50.7"/><text x="2628.5" y="861.35">ANNOT</text><text x="2628.5" y="881.85">Lou</text></g>
<g id="andriana" class="nd n"><rect x="2571" y="915.8" width="115" height="50.2"/><text x="2628.5" y="935.9">ANDRIANA</text><text x="2628.5" y="956.4">Ornella</text></g>
<g id="bosssard" class="nd n"><rect x="2567" y="990.8" width="123" height="50.2"/><text x="2628.5" y="1010.9">BOSSSARD</text><text x="2628.5" y="1031.4">Maxence</text></g>
<g id="desgranges" class="nd n"><rect x="2553" y="1065" width="151" height="51"/><text x="2628.5" y="1085.5">DESGRANGES</text><text x="2628.5" y="1106">Liv</text></g>
<g id="vairel" class="nd b kl"><rect x="2566.8" y="1140" width="123.4" height="65"/><text x="2628.5" y="1158">VAIREL</text><text x="2628.5" y="1176.5">Aubin</text><text class="i" x="2628.5" y="1195">Respo Clubs</text></g>
<g id="clottes" class="nd n"><rect x="2575" y="1230.5" width="107" height="50.5"/><text x="2628.5" y="1250.75">CLOTTES</text><text x="2628.5" y="1271.25">Simon</text></g>
<g id="sellier" class="nd n"><rect x="2580.5" y="1305" width="96" height="51"/><text x="2628.5" y="1325.5">SELLIER</text><text x="2628.5" y="1346">Paul</text></g>
<g id="raynaud" class="nd n"><rect x="2535.3" y="1379.6" width="186.4" height="50.9"/><text x="2628.5" y="1400.05">RAYNAUD-SCHELL</text><text x="2628.5" y="1420.55">Ninon</text></g>
<g id="debain" class="nd n"><rect x="2583" y="1454.6" width="91" height="50.9"/><text x="2628.5" y="1475.05">DEBAIN</text><text x="2628.5" y="1495.55">Guilhem</text></g>
<g id="lefranc" class="nd n"><rect x="2525" y="1528.7" width="207" height="51.3"/><text x="2628.5" y="1549.35">LEFRANC-MOUQUET</text><text x="2628.5" y="1569.85">Armand</text></g>
<g id="carpentier_c" class="nd n"><rect x="2559" y="1603.7" width="139" height="50.9"/><text x="2628.5" y="1624.15">CARPENTIER</text><text x="2628.5" y="1644.65">Clara</text></g>
<g id="matthis" class="nd n"><rect x="2587.35" y="1678.75" width="82.3" height="52.25"/><text x="2628.5" y="1720.4">Matthis</text></g>
<g id="pottier" class="nd n"><rect x="2578" y="1755.5" width="101" height="50.9"/><text x="2628.5" y="1775.95">POTTIER</text><text x="2628.5" y="1796.45">Eliot</text></g>
<g id="rouard" class="nd n"><rect x="2578" y="1830.5" width="101" height="50.5"/><text x="2628.5" y="1850.75">ROUARD</text><text x="2628.5" y="1871.25">Baptiste</text></g>
<g id="hechon" class="nd n"><rect x="2578" y="1905" width="101" height="50.5"/><text x="2628.5" y="1925.25">HECHON</text><text x="2628.5" y="1945.75">Loïc</text></g>
<g id="vanlerberghe" class="nd n"><rect x="2543" y="1980" width="171" height="50.4"/><text x="2628.5" y="2000.2">VANLERBERGHE</text><text x="2628.5" y="2020.7">Mathilde</text></g>
<g id="vandermeersch" class="nd n"><rect x="2534.25" y="2065.6" width="188.5" height="50.4"/><text x="2628.5" y="2085.8">VANDERMEERSCH</text><text x="2628.5" y="2106.3">Baptiste</text></g>
<g id="laurene" class="nd n"><rect x="2584.7" y="2146" width="87.6" height="51.8"/><text x="2628.5" y="2187.4">Laurène</text></g>
<g id="merieau" class="nd n"><rect x="2576.1" y="2222.8" width="104.8" height="50.2"/><text x="2628.5" y="2242.9">MERIEAU</text><text x="2628.5" y="2263.4">Basile</text></g>
<g id="rannou" class="nd n"><rect x="2578" y="2380" width="101" height="50.4"/><text x="2628.5" y="2400.2">RANNOU</text><text x="2628.5" y="2420.7">Jeoffroy</text></g>
<g id="horaze" class="nd n"><rect x="2579.25" y="2458.5" width="98.5" height="50.5"/><text x="2628.5" y="2478.75">HORAZE</text><text x="2628.5" y="2499.25">Romain</text></g>
<g id="chwalik" class="nd n"><rect x="2576.45" y="2533" width="104.1" height="50.5"/><text x="2628.5" y="2553.25">CHWALIK</text><text x="2628.5" y="2573.75">Clément</text></g>
<g id="salicis" class="nd n"><rect x="2583" y="2659.5" width="91" height="50.5"/><text x="2628.5" y="2679.75">SALICIS</text><text x="2628.5" y="2700.25">Adrien</text></g>
<g id="charrier_c" class="nd n"><rect x="2570.5" y="2734" width="116" height="51"/><text x="2628.5" y="2754.5">CHARRIER</text><text x="2628.5" y="2775">Clovis</text></g>
<g id="vasseur" class="nd n"><rect x="2574.5" y="2809" width="108" height="50.5"/><text x="2628.5" y="2829.25">VASSEUR</text><text x="2628.5" y="2849.75">Lucas</text></g>
<g id="france" class="nd n"><rect x="2580.5" y="2883.5" width="96" height="50.5"/><text x="2628.5" y="2903.75">FRANCE</text><text x="2628.5" y="2924.25">Wandy</text></g>
<g id="thomasguiroy" class="nd n"><rect x="2538.7" y="2959" width="179.6" height="50.5"/><text x="2628.5" y="2979.25">THOMAS-GUIROY</text><text x="2628.5" y="2999.75">Alexandre</text></g>
<g id="decayeux" class="nd n"><rect x="2568" y="3033.5" width="121" height="50.5"/><text x="2628.5" y="3053.75">DECAYEUX</text><text x="2628.5" y="3074.25">Quentin</text></g>
<g id="roca" class="nd n"><rect x="2591.5" y="3108.5" width="74" height="50.5"/><text x="2628.5" y="3128.75">ROCA</text><text x="2628.5" y="3149.25">Mateo</text></g>
<g id="maurin" class="nd n"><rect x="2547" y="3183" width="163" height="50.5"/><text x="2628.5" y="3203.25">MAURIN-BONINI</text><text x="2628.5" y="3223.75">Emile</text></g>
<g id="montarou" class="nd n"><rect x="2563" y="3257.4" width="131" height="50.6"/><text x="2628.5" y="3277.7">MONTAROU</text><text x="2628.5" y="3298.2">Mathis</text></g>
<g id="hamblin" class="nd n"><rect x="2577" y="3332.4" width="103" height="50.6"/><text x="2628.5" y="3352.7">HAMBLIN</text><text x="2628.5" y="3373.2">Tevainui</text></g>
<g id="fassenet" class="nd n"><rect x="2569.6" y="3407.4" width="117.8" height="50.6"/><text x="2628.5" y="3427.7">FASSENET</text><text x="2628.5" y="3448.2">Charlie</text></g>
<g id="darbane" class="nd n"><rect x="2574" y="3482" width="109" height="50.4"/><text x="2628.5" y="3502.2">DARBANE</text><text x="2628.5" y="3522.7">Sofia</text></g>
</g>
</svg>
